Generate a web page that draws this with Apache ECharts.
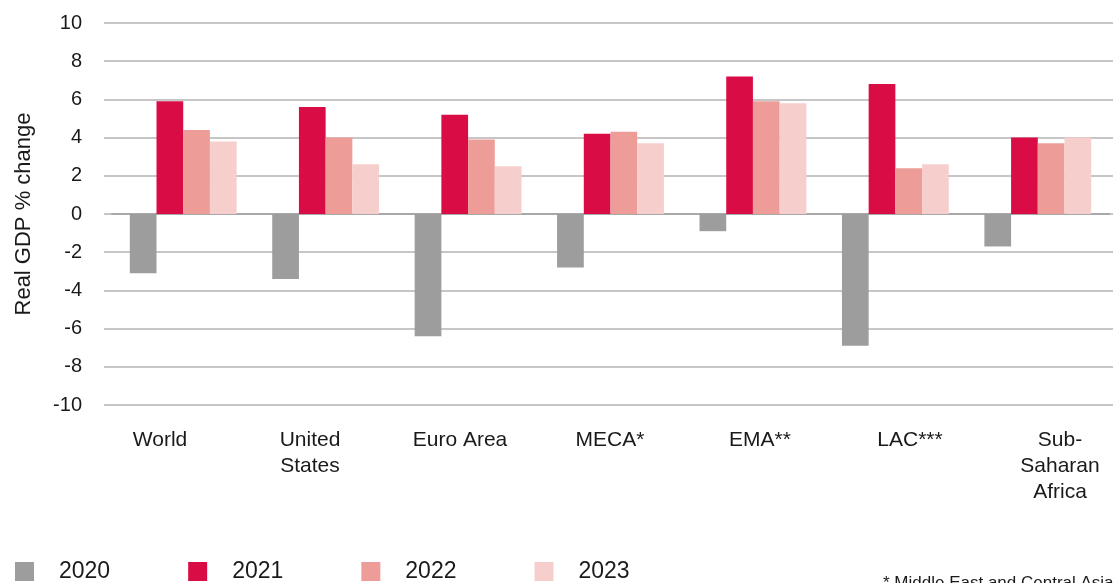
<!DOCTYPE html>
<html>
<head>
<meta charset="utf-8">
<script src="https://cdn.jsdelivr.net/npm/echarts@6/dist/echarts.min.js"></script>
<style>
html,body{margin:0;padding:0;background:#fff;}
#chart{width:1113px;height:583px;}
</style>
</head>
<body>
<div id="chart"></div>
<script>
const categories = ['World', 'United\nStates', 'Euro Area', 'MECA*', 'EMA**', 'LAC***', 'Sub-\nSaharan\nAfrica'];
const seriesNames = ['2020', '2021', '2022', '2023'];
const values2020 = [-3.1, -3.4, -6.4, -2.8, -0.9, -6.9, -1.7];
const values2021 = [5.9, 5.6, 5.2, 4.2, 7.2, 6.8, 4.0];
const values2022 = [4.4, 4.0, 3.9, 4.3, 5.9, 2.4, 3.7];
const values2023 = [3.8, 2.6, 2.5, 3.7, 5.8, 2.6, 4.0];
const yTicks = [-10, -8, -6, -4, -2, 0, 2, 4, 6, 8, 10];
const colors = ['#9d9d9d', '#da0c45', '#ee9c98', '#f6cecc'];
const footnote = '* Middle East and Central Asia';

const FONT = '"Liberation Sans", Arial, sans-serif';
const chart = echarts.init(document.getElementById('chart'), null, {renderer: 'canvas'});
const allValues = [values2020, values2021, values2022, values2023];

const option = {
  animation: false,
  backgroundColor: '#ffffff',
  textStyle: {fontFamily: FONT, color: '#1a1a1a'},
  grid: [
    {left: 104, right: 0, top: 23, height: 382},
    {left: 112, width: 997, top: 23, height: 382},
    {left: 160, width: 900, top: 23, height: 382}
  ],
  xAxis: [
    {gridIndex: 0, type: 'value', show: false},
    {gridIndex: 1, type: 'category', data: categories,
     axisLine: {show: true, onZero: true, lineStyle: {color: '#a8a8a8', width: 2}},
     axisTick: {show: false}, axisLabel: {show: false}, splitLine: {show: false}},
    {gridIndex: 2, type: 'category', data: categories, position: 'bottom', boundaryGap: false,
     axisLine: {show: false}, axisTick: {show: false}, splitLine: {show: false},
     axisLabel: {show: true, interval: 0, margin: 22, fontSize: 21, lineHeight: 26,
                 color: '#1a1a1a', fontFamily: FONT, align: 'center'}}
  ],
  yAxis: [
    {gridIndex: 0, type: 'value', min: yTicks[0], max: yTicks[yTicks.length - 1], interval: 2,
     name: 'Real GDP % change', nameLocation: 'middle', nameGap: 69, nameRotate: 90,
     nameTextStyle: {fontSize: 22, color: '#1a1a1a', fontFamily: FONT},
     axisLine: {show: false}, axisTick: {show: false},
     axisLabel: {fontSize: 20, color: '#1a1a1a', margin: 22, fontFamily: FONT},
     splitLine: {show: true, lineStyle: {color: '#c6c6c6', width: 2}}},
    {gridIndex: 1, type: 'value', min: yTicks[0], max: yTicks[yTicks.length - 1], interval: 2, show: false,
     splitLine: {show: false}},
    {gridIndex: 2, type: 'value', min: yTicks[0], max: yTicks[yTicks.length - 1], show: false,
     splitLine: {show: false}}
  ],
  legend: {
    left: 15, top: 560, padding: 0, itemWidth: 19, itemHeight: 19, itemGap: 78,
    icon: 'rect', data: seriesNames,
    textStyle: {fontSize: 23, color: '#1a1a1a', fontFamily: FONT, padding: [0, 0, 0, 20]}
  },
  graphic: [
    {type: 'text', left: 883, top: 575, style: {text: footnote, fill: '#1a1a1a', font: '17px "Liberation Sans", Arial, sans-serif'}}
  ],
  series: seriesNames.map((name, i) => ({
    name: name, type: 'bar', xAxisIndex: 1, yAxisIndex: 1,
    data: allValues[i], barGap: '0%', barCategoryGap: '25%',
    itemStyle: {color: colors[i]}
  }))
};
chart.setOption(option);
</script>
</body>
</html>
